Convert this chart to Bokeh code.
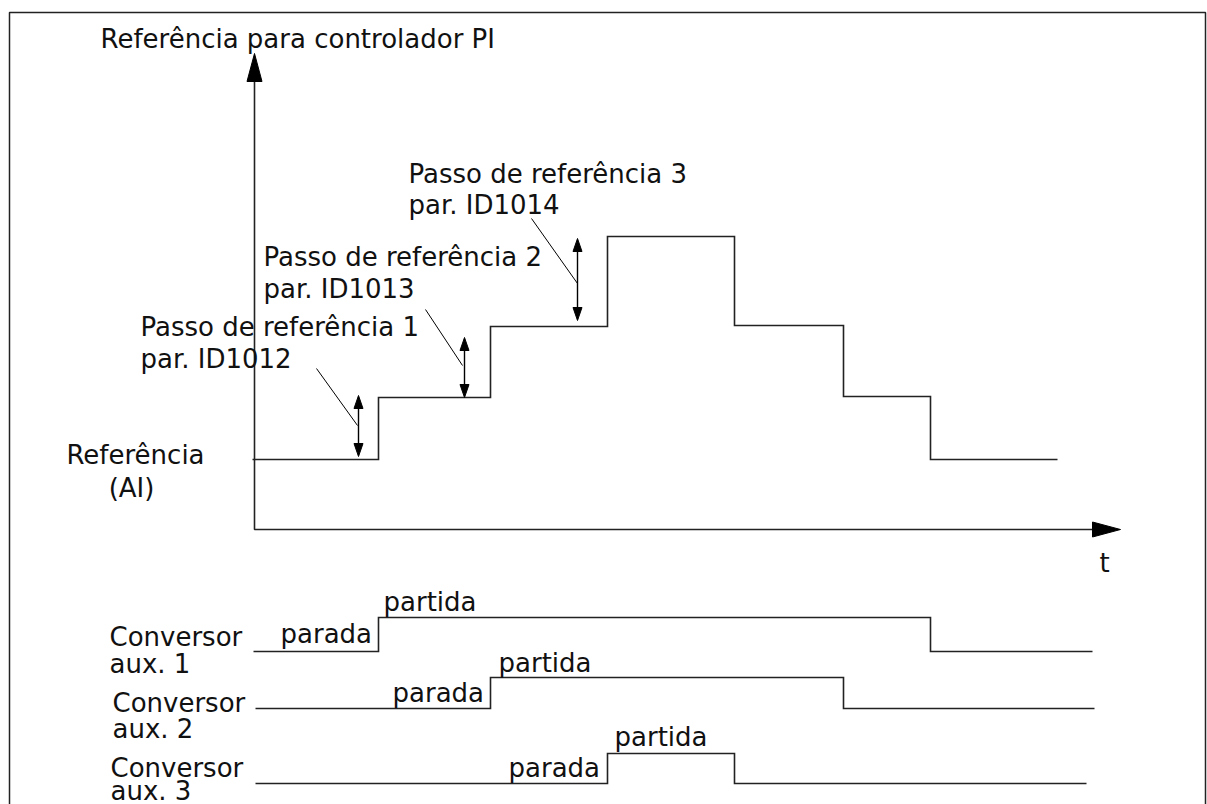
from bokeh.plotting import figure
from bokeh.models import Range1d
from bokeh.embed import file_html
from bokeh.resources import INLINE
from bokeh.core.properties import value

# ---------------- data (diagram coordinates: x to the right, y downward) -------------
# reference signal for PI controller (step times and levels)
t_breaks = [252, 378, 490, 607, 734, 843, 930, 1057]
ref_levels = [459, 397, 326, 236, 325, 396, 459, 459]

# axes
axis_x0 = 254
axis_y0 = 529
y_axis_tip = 53
x_axis_tip = 1120

# auxiliary drives: start / stop times and levels
aux_start_x = [253, 255, 255]
aux_on = [378, 490, 607]
aux_off = [930, 843, 734]
aux_end_x = [1092, 1094, 1086]
aux_low = [651, 708, 783]
aux_high = [617, 677, 753]

# step annotations (double arrows + leader lines)
step_arrow_x = [358, 464, 577]
step_arrow_top = [395, 337, 238]
step_arrow_bot = [456, 397, 320]
leader_x0 = [316, 425, 531]
leader_y0 = [368, 309, 218]
leader_x1 = [357, 462, 577]
leader_y1 = [425, 365, 283]

# texts (baseline positions)
left_texts = ["Referência para controlador PI",
              "Passo de referência 3", "par. ID1014",
              "Passo de referência 2", "par. ID1013",
              "Passo de referência 1", "par. ID1012",
              "t"]
left_x = [100, 408, 408, 263, 263, 140, 140, 1099]
left_y = [47, 182, 213, 265, 297, 335, 367, 571]

center_texts = ["Referência", "(AI)"]
center_x = [135, 131]
center_y = [463, 496]

conv_texts = ["Conversor", "Conversor", "Conversor"]
aux_texts = ["aux. 1", "aux. 2", "aux. 3"]
conv_x = [109, 112, 110]
conv_y = [645, 711, 776]
auxl_y = [672, 737, 799]

stop_texts = ["parada", "parada", "parada"]
stop_x = [280, 392, 508]
stop_y = [642, 701, 776]
start_texts = ["partida", "partida", "partida"]
start_x = [383, 498, 614]
start_y = [610, 671, 745]

# ---------------- figure ----------------
W, H = 1207, 804
p = figure(width=W, height=H, output_backend="svg", toolbar_location=None,
           x_range=Range1d(0, W), y_range=Range1d(H, 0),
           min_border=0, outline_line_color=None)
p.axis.visible = False
p.grid.visible = False
p.background_fill_color = "white"
p.border_fill_color = "white"

LC = "#222222"
TC = "#111111"
FONT = value("DejaVu Sans")
FS = "26px"
TEXT_DY = -9  # compensates the renderer's baseline placement

# frame
p.line([9, 9, 1205, 1205], [H + 5, 12, 12, H + 5], line_color=LC, line_width=1.5)

# axes
AH_L, AH_W = 28, 7.5
p.line([axis_x0, axis_x0, x_axis_tip - AH_L], [y_axis_tip + AH_L, axis_y0, axis_y0],
       line_color=LC, line_width=1.6)
p.patch([axis_x0, axis_x0 - AH_W, axis_x0 + AH_W],
        [y_axis_tip, y_axis_tip + AH_L, y_axis_tip + AH_L], color="black")
p.patch([x_axis_tip, x_axis_tip - AH_L, x_axis_tip - AH_L],
        [axis_y0, axis_y0 - AH_W, axis_y0 + AH_W], color="black")

# reference signal
p.step(t_breaks, ref_levels, mode="after", line_color=LC, line_width=1.6,
       line_join="miter")

# auxiliary drives
for i in range(3):
    xs = [aux_start_x[i], aux_on[i], aux_off[i], aux_end_x[i]]
    ys = [aux_low[i], aux_high[i], aux_low[i], aux_low[i]]
    p.step(xs, ys, mode="after", line_color=LC, line_width=1.6, line_join="miter")

# step double arrows
SH_L, SH_W = 13, 4.5
p.segment(x0=step_arrow_x, y0=[t + SH_L - 2 for t in step_arrow_top],
          x1=step_arrow_x, y1=[b - SH_L + 2 for b in step_arrow_bot],
          line_color="black", line_width=1.4)
p.patches([[x, x - SH_W, x + SH_W] for x in step_arrow_x],
          [[t, t + SH_L, t + SH_L] for t in step_arrow_top], color="black")
p.patches([[x, x - SH_W, x + SH_W] for x in step_arrow_x],
          [[b, b - SH_L, b - SH_L] for b in step_arrow_bot], color="black")

# leader lines
p.segment(x0=leader_x0, y0=leader_y0, x1=leader_x1, y1=leader_y1,
          line_color="black", line_width=1.0)

# texts
def txt(xs, ys, texts, align="left"):
    p.text(x=xs, y=[y + TEXT_DY for y in ys], text=texts, text_font=FONT,
           text_font_size=FS, text_color=TC, text_align=align,
           text_baseline="alphabetic")

txt(left_x, left_y, left_texts)
txt(center_x, center_y, center_texts, align="center")
txt(conv_x, conv_y, conv_texts)
txt(conv_x, auxl_y, aux_texts)
txt(stop_x, stop_y, stop_texts)
txt(start_x, start_y, start_texts)

open("out.html", "w").write(file_html(p, INLINE))
